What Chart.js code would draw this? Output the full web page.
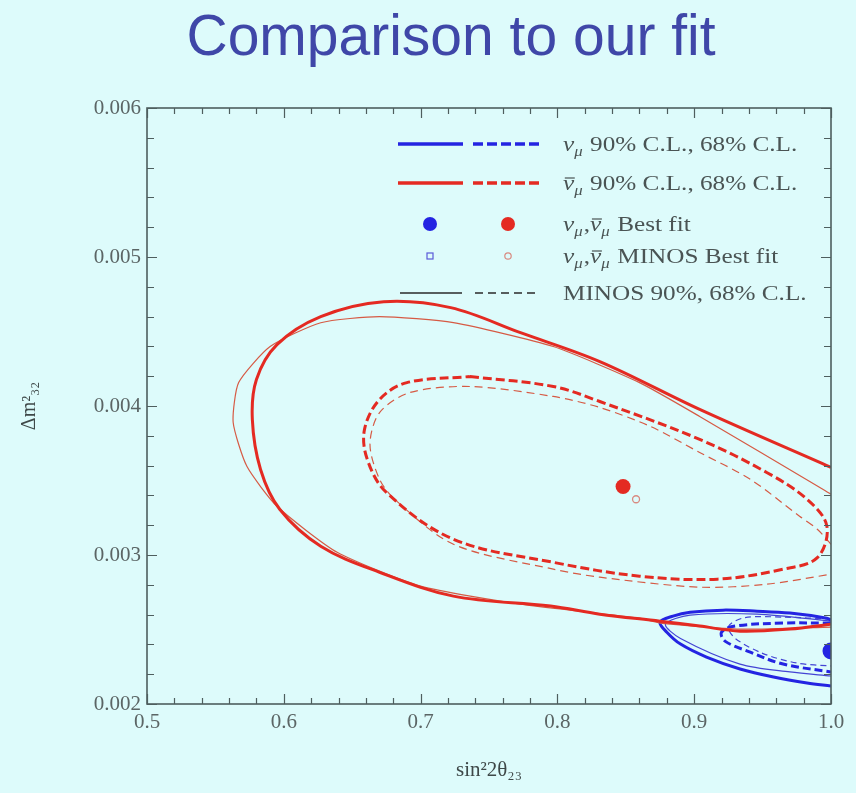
<!DOCTYPE html>
<html>
<head>
<meta charset="utf-8">
<script src="https://cdn.jsdelivr.net/npm/chart.js@4/dist/chart.umd.min.js"></script>
<style>
  html, body { margin: 0; padding: 0; background: #ddfbfb; }
  #wrap { position: relative; width: 856px; height: 793px; }
</style>
</head>
<body>
<div id="wrap"><canvas id="c" width="856" height="793"></canvas></div>
<script>
// ---- axis ticks ----
const xTicks = [0.5, 0.6, 0.7, 0.8, 0.9, 1.0];
const xTickLabels = ['0.5', '0.6', '0.7', '0.8', '0.9', '1.0'];
const yTicks = [0.002, 0.003, 0.004, 0.005, 0.006];
const yTickLabels = ['0.002', '0.003', '0.004', '0.005', '0.006'];

// ---- confidence contours: [sin^2(2θ23), Δm^2_32] ----
// anti-neutrino 90% C.L. (open at sin^2 2θ = 1)
const antiNu90 = [
  [1.000, 0.002536], [0.970, 0.002503], [0.9335, 0.002489], [0.904, 0.002523],
  [0.875, 0.002556], [0.831, 0.002603], [0.795, 0.002657], [0.724, 0.002724],
  [0.670, 0.002884], [0.627, 0.003059], [0.597, 0.003307], [0.583, 0.003574],
  [0.577, 0.003910], [0.580, 0.004178], [0.595, 0.004412], [0.627, 0.004600],
  [0.673, 0.004700], [0.722, 0.004660], [0.773, 0.004492], [0.831, 0.004298],
  [0.904, 0.003977], [1.000, 0.003588]
];
// anti-neutrino 68% C.L. (closed)
const antiNu68 = [
  [0.736, 0.004198], [0.797, 0.004131], [0.831, 0.004030], [0.904, 0.003776],
  [0.953, 0.003554], [0.9825, 0.003374], [0.997, 0.003193], [0.990, 0.002982],
  [0.965, 0.002905], [0.917, 0.002838], [0.860, 0.002858], [0.797, 0.002951],
  [0.724, 0.003106], [0.675, 0.003420], [0.661, 0.003642], [0.659, 0.003843],
  [0.670, 0.004044], [0.690, 0.004157], [0.736, 0.004198]
];
// MINOS anti-neutrino 90% C.L.
const antiNuMinos90 = [
  [1.000, 0.002516], [0.9335, 0.002503], [0.875, 0.002543], [0.860, 0.002576],
  [0.773, 0.002670], [0.700, 0.002791], [0.639, 0.003018], [0.595, 0.003327],
  [0.573, 0.003595], [0.563, 0.003889], [0.567, 0.004157], [0.590, 0.004399],
  [0.627, 0.004559], [0.670, 0.004600], [0.724, 0.004559], [0.797, 0.004399],
  [0.860, 0.004157], [0.904, 0.003930], [0.994, 0.003441], [1.000, 0.003407]
];
// MINOS anti-neutrino 68% C.L.
const antiNuMinos68 = [
  [1.000, 0.003072], [0.990, 0.003173], [0.977, 0.003260], [0.941, 0.003508],
  [0.904, 0.003688], [0.868, 0.003863], [0.831, 0.003990], [0.797, 0.004064],
  [0.736, 0.004131], [0.692, 0.004090], [0.670, 0.003956], [0.663, 0.003742],
  [0.670, 0.003508], [0.681, 0.003374], [0.724, 0.003072], [0.797, 0.002905],
  [0.831, 0.002851], [0.904, 0.002784], [0.953, 0.002804], [1.000, 0.002871]
];
// neutrino 90% C.L.
const nu90 = [
  [1.000, 0.002563], [0.997, 0.002576], [0.970, 0.002610], [0.946, 0.002623],
  [0.921, 0.002630], [0.897, 0.002616], [0.8845, 0.002590], [0.875, 0.002549],
  [0.880, 0.002482], [0.890, 0.002402], [0.909, 0.002315], [0.9335, 0.002235],
  [0.958, 0.002181], [0.9825, 0.002141], [1.000, 0.002121]
];
// neutrino 68% C.L.
const nu68 = [
  [1.000, 0.002543], [0.965, 0.002543], [0.930, 0.002523], [0.920, 0.002482],
  [0.9225, 0.002422], [0.941, 0.002348], [0.965, 0.002268], [1.000, 0.002215]
];
// MINOS neutrino 90% C.L.
const nuMinos90 = [
  [1.000, 0.002556], [0.946, 0.002603], [0.897, 0.002596], [0.879, 0.002536],
  [0.890, 0.002440], [0.9335, 0.002268], [0.970, 0.002215], [1.000, 0.002188]
];
// MINOS neutrino 68% C.L.
const nuMinos68 = [
  [1.000, 0.002570], [0.965, 0.002583], [0.937, 0.002580], [0.925, 0.002520],
  [0.930, 0.002440], [0.950, 0.002340], [0.975, 0.002275], [1.000, 0.002255]
];

// ---- best-fit points ----
const nuBest = [[1.000, 0.002355]];
const antiNuBest = [[0.848, 0.003460]];
const nuMinosBest = [[1.000, 0.002350]];
const antiNuMinosBest = [[0.8575, 0.003374]];

// ---- legend entries ----
const legendRows = [
  [{ t: 'ν', it: 1 }, { t: 'μ', it: 1, sub: 1 }, { t: ' 90% C.L., 68% C.L.' }],
  [{ t: 'ν', it: 1, bar: 1 }, { t: 'μ', it: 1, sub: 1 }, { t: ' 90% C.L., 68% C.L.' }],
  [{ t: 'ν', it: 1 }, { t: 'μ', it: 1, sub: 1 }, { t: ',' }, { t: 'ν', it: 1, bar: 1 }, { t: 'μ', it: 1, sub: 1 }, { t: ' Best fit' }],
  [{ t: 'ν', it: 1 }, { t: 'μ', it: 1, sub: 1 }, { t: ',' }, { t: 'ν', it: 1, bar: 1 }, { t: 'μ', it: 1, sub: 1 }, { t: ' MINOS Best fit' }],
  [{ t: 'MINOS 90%, 68% C.L.' }]
];

const BLUE = '#2424e2';
const BLUE_THIN = '#4444d4';
const RED = '#e42a22';
const RED_THIN = '#d65a44';
const FRAME = '#4e5e5e';
const TEXT = '#5b6565';

const toXY = arr => arr.map(p => ({ x: p[0], y: p[1] }));

function contour(label, arr, color, width, dash, tension, order) {
  return {
    label, data: toXY(arr), showLine: true, borderColor: color, borderWidth: width,
    borderDash: dash, pointRadius: 0, pointHoverRadius: 0, tension, fill: false, order
  };
}

const datasets = [
  { label: 'ν̄μ best fit', data: toXY(antiNuBest), pointRadius: 7.5, pointHoverRadius: 7.5,
    pointBackgroundColor: RED, pointBorderWidth: 0, order: 0 },
  { label: 'νμ best fit', data: toXY(nuBest), pointRadius: 8.5, pointHoverRadius: 8.5,
    pointBackgroundColor: BLUE, pointBorderWidth: 0, order: 0 },
  { label: 'ν̄μ MINOS best fit', data: toXY(antiNuMinosBest), pointRadius: 3.5, pointHoverRadius: 3.5,
    pointStyle: 'circle', pointBackgroundColor: 'rgba(0,0,0,0)', pointBorderColor: '#d88a80',
    pointBorderWidth: 1.3, order: 1 },
  { label: 'νμ MINOS best fit', data: toXY(nuMinosBest), pointRadius: 3.5, pointHoverRadius: 3.5,
    pointStyle: 'rect', pointBackgroundColor: 'rgba(0,0,0,0)', pointBorderColor: '#5a5ad8',
    pointBorderWidth: 1.3, order: 1 },
  contour('ν̄μ 90% C.L.', antiNu90, RED, 3, [], 0.35, 2),
  contour('ν̄μ 68% C.L.', antiNu68, RED, 3, [9, 4], 0.35, 2),
  contour('MINOS ν̄μ 90% C.L.', antiNuMinos90, RED_THIN, 1.2, [], 0.2, 3),
  contour('MINOS ν̄μ 68% C.L.', antiNuMinos68, RED_THIN, 1.2, [8, 5], 0.3, 3),
  contour('νμ 90% C.L.', nu90, BLUE, 3, [], 0.35, 4),
  contour('νμ 68% C.L.', nu68, BLUE, 3, [8, 4], 0.35, 4),
  contour('MINOS νμ 90% C.L.', nuMinos90, BLUE_THIN, 1.2, [], 0.3, 5),
  contour('MINOS νμ 68% C.L.', nuMinos68, BLUE_THIN, 1.2, [6, 4], 0.3, 5)
];

// Title, frame with inward major/minor ticks on all sides, and the two-column legend
const decorations = {
  id: 'decorations',
  afterDatasetsDraw(chart) {
    const { ctx, chartArea: a, scales: { x, y } } = chart;
    ctx.save();
    // frame
    ctx.strokeStyle = FRAME;
    ctx.lineWidth = 1.6;
    ctx.strokeRect(a.left, a.top, a.right - a.left, a.bottom - a.top);
    // ticks
    ctx.lineWidth = 1.2;
    ctx.beginPath();
    for (let i = 0; i < xTicks.length; i++) {
      for (let k = 0; k < 5; k++) {
        if (i === xTicks.length - 1 && k > 0) break;
        const v = xTicks[i] + k * 0.02;
        const px = Math.round(x.getPixelForValue(v)) + 0.5;
        const len = k === 0 ? 10 : 6;
        ctx.moveTo(px, a.bottom); ctx.lineTo(px, a.bottom - len);
        ctx.moveTo(px, a.top); ctx.lineTo(px, a.top + len);
      }
    }
    for (let i = 0; i < yTicks.length; i++) {
      for (let k = 0; k < 5; k++) {
        if (i === yTicks.length - 1 && k > 0) break;
        const v = yTicks[i] + k * 0.0002;
        const py = Math.round(y.getPixelForValue(v)) + 0.5;
        const len = k === 0 ? 10 : 7;
        ctx.moveTo(a.left, py); ctx.lineTo(a.left + len, py);
        ctx.moveTo(a.right, py); ctx.lineTo(a.right - len, py);
      }
    }
    ctx.stroke();

    // legend
    const rowsY = [144, 183, 224, 256, 293];
    const lineX = [398, 463, 473, 543];
    const dotX = [430, 508];
    ctx.lineCap = 'butt';
    // rows 1 & 2: solid + dashed thick lines
    [[BLUE, 0], [RED, 1]].forEach(([c, r]) => {
      ctx.strokeStyle = c;
      ctx.lineWidth = 3.5;
      ctx.setLineDash([]);
      ctx.beginPath(); ctx.moveTo(lineX[0], rowsY[r]); ctx.lineTo(lineX[1], rowsY[r]); ctx.stroke();
      ctx.setLineDash([10, 4]);
      ctx.beginPath(); ctx.moveTo(lineX[2], rowsY[r]); ctx.lineTo(lineX[3], rowsY[r]); ctx.stroke();
    });
    ctx.setLineDash([]);
    // row 3: filled dots
    ctx.fillStyle = BLUE;
    ctx.beginPath(); ctx.arc(dotX[0], rowsY[2], 7, 0, Math.PI * 2); ctx.fill();
    ctx.fillStyle = RED;
    ctx.beginPath(); ctx.arc(dotX[1], rowsY[2], 7, 0, Math.PI * 2); ctx.fill();
    // row 4: hollow markers
    ctx.lineWidth = 1.2;
    ctx.strokeStyle = '#5a5ad8';
    ctx.strokeRect(dotX[0] - 3, rowsY[3] - 3, 6, 6);
    ctx.strokeStyle = '#d88a80';
    ctx.beginPath(); ctx.arc(dotX[1], rowsY[3], 3.2, 0, Math.PI * 2); ctx.stroke();
    // row 5: thin black solid + dashed
    ctx.strokeStyle = '#2a2a2a';
    ctx.lineWidth = 1.3;
    ctx.beginPath(); ctx.moveTo(400, rowsY[4]); ctx.lineTo(462, rowsY[4]); ctx.stroke();
    ctx.setLineDash([8, 5]);
    ctx.beginPath(); ctx.moveTo(475, rowsY[4]); ctx.lineTo(540, rowsY[4]); ctx.stroke();
    ctx.setLineDash([]);

    // legend text
    ctx.fillStyle = '#4a5454';
    ctx.textBaseline = 'alphabetic';
    ctx.textAlign = 'left';
    legendRows.forEach((parts, r) => drawRich(ctx, 563, rowsY[r] + 7, parts, 21, 1.2));

    // title
    ctx.fillStyle = '#3f47a8';
    ctx.font = '57px "Liberation Sans", Arial, sans-serif';
    ctx.textAlign = 'center';
    ctx.fillText('Comparison to our fit', 451, 55);
    ctx.restore();
  }
};

function drawRich(ctx, x, y, parts, size, sx) {
  ctx.save();
  ctx.translate(x, y);
  ctx.scale(sx, 1);
  let cx = 0;
  for (const p of parts) {
    const fs = p.sub ? Math.round(size * 0.66) : size;
    ctx.font = (p.it ? 'italic ' : '') + fs + 'px "Liberation Serif", serif';
    const dy = p.sub ? size * 0.25 : 0;
    ctx.fillText(p.t, cx, dy);
    const w = ctx.measureText(p.t).width;
    if (p.bar) ctx.fillRect(cx + 1.5, -size * 0.6, w - 1, 1.2);
    cx += w + (p.sub ? 1 : 0);
  }
  ctx.restore();
}

const serif = '"Liberation Serif", "Times New Roman", serif';

new Chart(document.getElementById('c'), {
  type: 'scatter',
  data: { datasets },
  options: {
    responsive: false,
    animation: false,
    events: [],
    layout: { padding: { top: 108, right: 25, bottom: 0, left: 0 } },
    plugins: { legend: { display: false }, tooltip: { enabled: false } },
    scales: {
      x: {
        type: 'linear', min: 0.5, max: 1.0,
        afterBuildTicks: s => { s.ticks = xTicks.map(v => ({ value: v })); },
        afterFit: s => { s.height = 89; },
        grid: { display: false, drawTicks: false },
        border: { display: false },
        ticks: {
          autoSkip: false, maxRotation: 0, padding: 6,
          callback: v => xTickLabels[xTicks.indexOf(v)],
          font: { family: serif, size: 21 }, color: TEXT
        },
        title: {
          display: true, text: 'sin²2θ₂₃', color: '#3e4848',
          font: { family: serif, size: 21 }, padding: { top: 0, bottom: 10 }
        }
      },
      y: {
        type: 'linear', min: 0.002, max: 0.006,
        afterBuildTicks: s => { s.ticks = yTicks.map(v => ({ value: v })); },
        afterFit: s => { s.width = 147; },
        grid: { display: false, drawTicks: false },
        border: { display: false },
        ticks: {
          autoSkip: false, padding: 6,
          callback: v => yTickLabels[yTicks.indexOf(v)],
          font: { family: serif, size: 21 }, color: TEXT
        },
        title: {
          display: true, text: 'Δm²₃₂', color: '#3e4848',
          font: { family: serif, size: 20 }, padding: { top: 18, bottom: 0 }
        }
      }
    }
  },
  plugins: [decorations]
});
</script>
</body>
</html>
